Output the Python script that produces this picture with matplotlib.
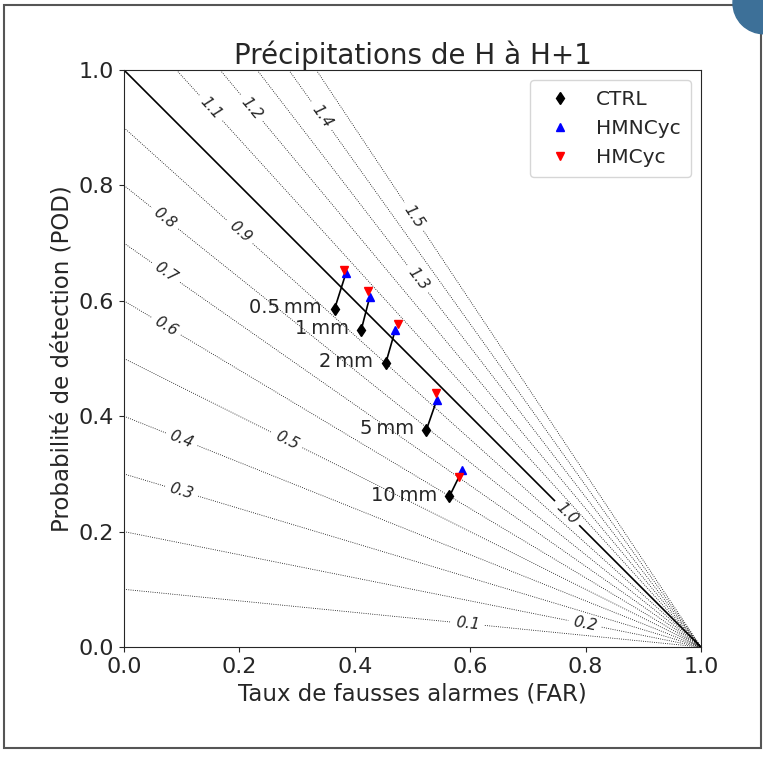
import numpy as np
import matplotlib.pyplot as plt
from matplotlib.patches import Rectangle, Circle

# seuils de precipitation et scores (FAR, POD) pour chaque experience
seuils = ['0.5', '1', '2', '5', '10']
ctrl_far = [0.365, 0.411, 0.454, 0.524, 0.564]
ctrl_pod = [0.586, 0.549, 0.493, 0.376, 0.261]
hmncyc_far = [0.385, 0.426, 0.470, 0.542, 0.586]
hmncyc_pod = [0.649, 0.607, 0.549, 0.428, 0.306]
hmcyc_far = [0.381, 0.423, 0.475, 0.541, 0.581]
hmcyc_pod = [0.653, 0.617, 0.560, 0.441, 0.295]

# lignes de biais B = POD / (1 - FAR)
biais = [0.1, 0.2, 0.3, 0.4, 0.5, 0.6, 0.7, 0.8, 0.9, 1.0,
         1.1, 1.2, 1.3, 1.4, 1.5]
pos_labels = [(0.596, 0.040), (0.799, 0.040), (0.100, 0.270), (0.100, 0.360),
              (0.283, 0.359), (0.073, 0.556), (0.073, 0.649), (0.071, 0.743),
              (0.201, 0.719), (0.768, 0.232), (0.151, 0.934), (0.222, 0.934),
              (0.510, 0.638), (0.343, 0.920), (0.503, 0.746)]

txt = '#262626'
plt.rcParams['font.family'] = ['DejaVu Sans']
plt.rcParams['text.color'] = txt
plt.rcParams['axes.labelcolor'] = txt
plt.rcParams['xtick.color'] = txt
plt.rcParams['ytick.color'] = txt
plt.rcParams['axes.edgecolor'] = txt

fig = plt.figure(figsize=(7.63, 7.58), dpi=100)
ax = fig.add_axes([0.1625, 0.1464, 0.7562, 0.7612])

far = np.linspace(0, 0.9999, 800)
pod = np.linspace(0, 1, 800)
F, P = np.meshgrid(far, pod)
B = P / (1 - F)

styles = ['-' if b == 1.0 else ':' for b in biais]
widths = [1.2 if b == 1.0 else 0.6 for b in biais]
cs = ax.contour(F, P, B, levels=biais, colors='k', linestyles=styles,
                linewidths=widths)
labs = ax.clabel(cs, biais, manual=pos_labels, inline=True, fmt='%.1f',
                 fontsize=11)
for t in labs:
    t.set_fontstyle('italic')
    t.set_color(txt)

# segments CTRL -> HMNCyc
for i in range(len(seuils)):
    ax.plot([ctrl_far[i], hmncyc_far[i]], [ctrl_pod[i], hmncyc_pod[i]],
            color='k', lw=1.2, zorder=3)

ax.plot(ctrl_far, ctrl_pod, 'd', color='k', ms=6.5, ls='none', label='CTRL', zorder=4)
ax.plot(hmncyc_far, hmncyc_pod, '^', color='b', ms=6, ls='none', label='HMNCyc', zorder=5)
ax.plot(hmcyc_far, hmcyc_pod, 'v', color='r', ms=6, ls='none', label='HMCyc', zorder=6)

for i, s in enumerate(seuils):
    ax.annotate(s + '\u2009mm', (ctrl_far[i], ctrl_pod[i]), xytext=(-9, 1),
                textcoords='offset points', ha='right', va='center',
                fontsize=14)

ax.set_xlim(0, 1)
ax.set_ylim(0, 1)
ax.set_xticks([0, 0.2, 0.4, 0.6, 0.8, 1.0])
ax.set_yticks([0, 0.2, 0.4, 0.6, 0.8, 1.0])
ax.tick_params(labelsize=16)
ax.set_xlabel('Taux de fausses alarmes (FAR)', fontsize=16.5)
ax.set_ylabel('Probabilité de détection (POD)', fontsize=16.5)
ax.set_title('Précipitations de H à H+1', fontsize=20, pad=4)
ax.legend(loc='upper right', fontsize=14.5, handletextpad=0.8, borderpad=0.5)

# cadre autour de la figure
fig.patches.append(Rectangle((4 / 763, 1 - 748 / 758), 757 / 763, 743 / 758,
                             transform=fig.transFigure, fill=False,
                             edgecolor='#555555', lw=1.5))
fig.patches.append(Circle((764 / 763, 1 - 3 / 758), 31 / 763,
                          transform=fig.transFigure, color='#3d7098'))

fig.savefig('out.png', dpi=100)
